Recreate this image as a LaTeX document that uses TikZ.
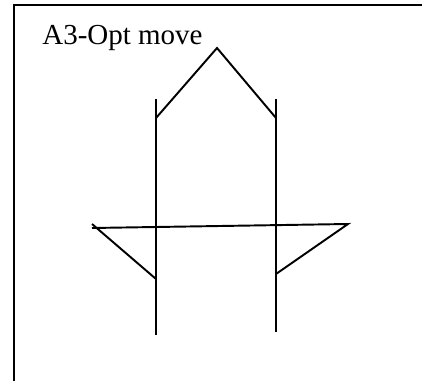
\documentclass[tikz,border=0pt]{standalone}
\usepackage{fontspec}
\setmainfont{Liberation Serif}

\begin{document}
\begin{tikzpicture}[x=0.02cm, y=-0.02cm,
    edge/.style={black, line width=1.1pt},
    frameline/.style={black, line width=1pt},
    title/.style={anchor=base west, inner sep=0pt, font=\fontsize{16.5}{19}\selectfont}]
    \useasboundingbox (0,0) rectangle (422,381);
    % Rahmen (nur links und oben sichtbar)
    \draw[frameline] (14,385) -- (14,5) -- (426,5);
    \node[title] (label) at (42,45) {A3-Opt move};
    % Eckpunkte der Tour
    \coordinate (apex) at (217,48);
    \coordinate (lt) at (156,99);
    \coordinate (lm) at (156,118);
    \coordinate (lk) at (156,279);
    \coordinate (lb) at (156,335);
    \coordinate (rt) at (276,99);
    \coordinate (rm) at (276,118);
    \coordinate (rk) at (276,274);
    \coordinate (rb) at (276,332);
    \coordinate (wl) at (92,224);
    \coordinate (wh) at (92,228);
    \coordinate (er) at (348,224);
    % senkrechte Kanten
    \foreach \a/\b in {lt/lb, rt/rb} {
        \draw[edge] (\a) -- (\b);
    }
    \draw[edge] (lm) -- (apex) -- (rm);
    \draw[edge] (wl) -- (lk);
    \draw[edge] (wh) -- (er) -- (rk);
\end{tikzpicture}
\end{document}
